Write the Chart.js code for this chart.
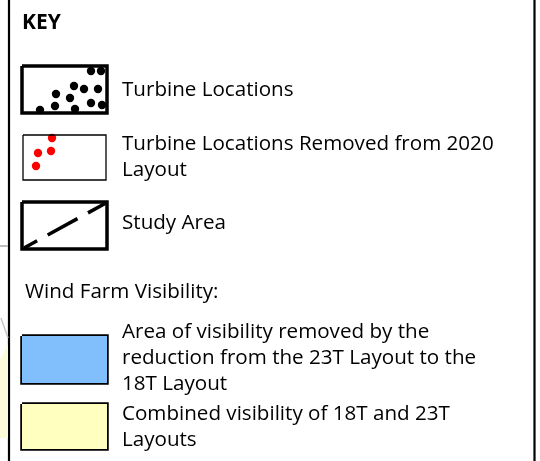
<!DOCTYPE html>
<html>
<head>
<meta charset="utf-8">
<script src="https://cdn.jsdelivr.net/npm/chart.js@4/dist/chart.umd.min.js"></script>
<style>
  html, body { margin: 0; padding: 0; background: #fff; }
  #wrap { position: relative; width: 540px; height: 461px; }
</style>
</head>
<body>
<div id="wrap"><canvas id="keyChart" width="540" height="461"></canvas></div>
<script>
// turbine symbol dots (x, y in key units)
const turbineX = [91, 101, 74, 84, 98, 56, 70, 55, 91, 102, 40, 75];
const turbineY = [71, 71, 86, 89, 89, 94, 98, 106, 103, 105, 110, 109];
// removed turbine dots
const removedX = [52, 38, 51, 36];
const removedY = [138, 153, 151, 166];
// study area dashed stroke
const studyX = [24, 106];
const studyY = [248, 203];

// key entries
const keyTitle = "KEY";
const entryLabels = [
  ["Turbine Locations"],
  ["Turbine Locations Removed from 2020", "Layout"],
  ["Study Area"],
  ["Area of visibility removed by the", "reduction from the 23T Layout to the", "18T Layout"],
  ["Combined visibility of 18T and 23T", "Layouts"],
];
const sectionLabel = "Wind Farm Visibility:";
const fillColours = ["#80BFFB", "#FFFFC0"];

// symbol boxes [left, top, right, bottom]
const boxes = [
  [22, 66, 107, 113],
  [23, 135, 106, 180],
  [22, 202, 107, 249],
  [22, 336, 107, 383],
  [22, 404, 107, 449],
];
const boxWidths = [3.5, 1.3, 3.5, 3.5, 3.5];
const labelTops = [90, 144, 223, 332, 414];
const lineGap = 26;

function boxPath(b) {
  return [
    { x: b[0], y: b[1] }, { x: b[2], y: b[1] },
    { x: b[2], y: b[3] }, { x: b[0], y: b[3] }, { x: b[0], y: b[1] },
  ];
}

const datasets = [];
// faint map showing at left edge
datasets.push({
  type: "line", data: [{ x: 0, y: 246 }, { x: 8, y: 246 }],
  borderColor: "#bdbdbd", borderWidth: 2, pointRadius: 0,
});
datasets.push({
  type: "line", data: [{ x: 1, y: 318 }, { x: 8, y: 338 }],
  borderColor: "#c8c8c8", borderWidth: 1.5, pointRadius: 0,
});
datasets.push({
  type: "line", data: [{ x: 0, y: 360 }, { x: 8, y: 344 }],
  borderColor: "rgba(0,0,0,0)", pointRadius: 0,
  backgroundColor: "#fdfcd9", fill: { value: 438 },
});
// fills for visibility boxes
[3, 4].forEach((i, k) => {
  const b = boxes[i];
  datasets.push({
    type: "line", data: [{ x: b[0], y: b[1] }, { x: b[2], y: b[1] }],
    borderColor: "rgba(0,0,0,0)", pointRadius: 0,
    backgroundColor: fillColours[k], fill: { value: b[3] },
  });
});
// box outlines
boxes.forEach((b, i) => {
  datasets.push({
    type: "line", data: boxPath(b), borderColor: "#000",
    borderWidth: boxWidths[i], pointRadius: 0, fill: false,
    borderJoinStyle: "miter",
  });
});
// study area dashes
datasets.push({
  type: "line",
  data: studyX.map((x, i) => ({ x, y: studyY[i] })),
  borderColor: "#000", borderWidth: 3.5, pointRadius: 0,
  borderDash: [34, 12], borderDashOffset: 19,
});
// outer key frame sides
datasets.push({
  type: "line", data: [{ x: 9, y: 0 }, { x: 9, y: 461 }],
  borderColor: "#000", borderWidth: 2.2, pointRadius: 0,
});
datasets.push({
  type: "line", data: [{ x: 534.5, y: 0 }, { x: 534.5, y: 461 }],
  borderColor: "#000", borderWidth: 2.2, pointRadius: 0,
});
// dots
datasets.push({
  type: "scatter",
  data: turbineX.map((x, i) => ({ x, y: turbineY[i] })),
  backgroundColor: "#000", borderWidth: 0, pointRadius: 4.2,
});
datasets.push({
  type: "scatter",
  data: removedX.map((x, i) => ({ x, y: removedY[i] })),
  backgroundColor: "#ff0000", borderWidth: 0, pointRadius: 4.2,
});

const fontFamily = "'Open Sans', Lato, sans-serif";

const keyText = {
  id: "keyText",
  afterDatasetsDraw(chart) {
    const { ctx } = chart;
    const sx = chart.scales.x, sy = chart.scales.y;
    ctx.save();
    ctx.fillStyle = "#000";
    ctx.textBaseline = "middle";
    ctx.font = "bold 21px " + fontFamily;
    ctx.fillText(keyTitle, sx.getPixelForValue(22), sy.getPixelForValue(23));
    ctx.font = "20.6px " + fontFamily;
    entryLabels.forEach((lines, i) => {
      lines.forEach((t, j) => {
        ctx.fillText(t, sx.getPixelForValue(122), sy.getPixelForValue(labelTops[i] + j * lineGap));
      });
    });
    ctx.fillText(sectionLabel, sx.getPixelForValue(25), sy.getPixelForValue(292));
    ctx.restore();
  },
};

function drawKey() {
  new Chart(document.getElementById("keyChart"), {
    type: "scatter",
    data: { datasets },
    plugins: [keyText],
    options: {
      responsive: false,
      animation: false,
      layout: { padding: 0, autoPadding: false },
      plugins: { legend: { display: false }, tooltip: { enabled: false } },
      scales: {
        x: { type: "linear", min: 0, max: 540, display: false },
        y: { type: "linear", min: 0, max: 461, reverse: true, display: false },
      },
      elements: { line: { tension: 0 } },
    },
  });
}

Promise.all([
  document.fonts.load("20px 'Open Sans'"),
  document.fonts.load("bold 20px 'Open Sans'"),
]).then(drawKey, drawKey);
</script>
</body>
</html>
